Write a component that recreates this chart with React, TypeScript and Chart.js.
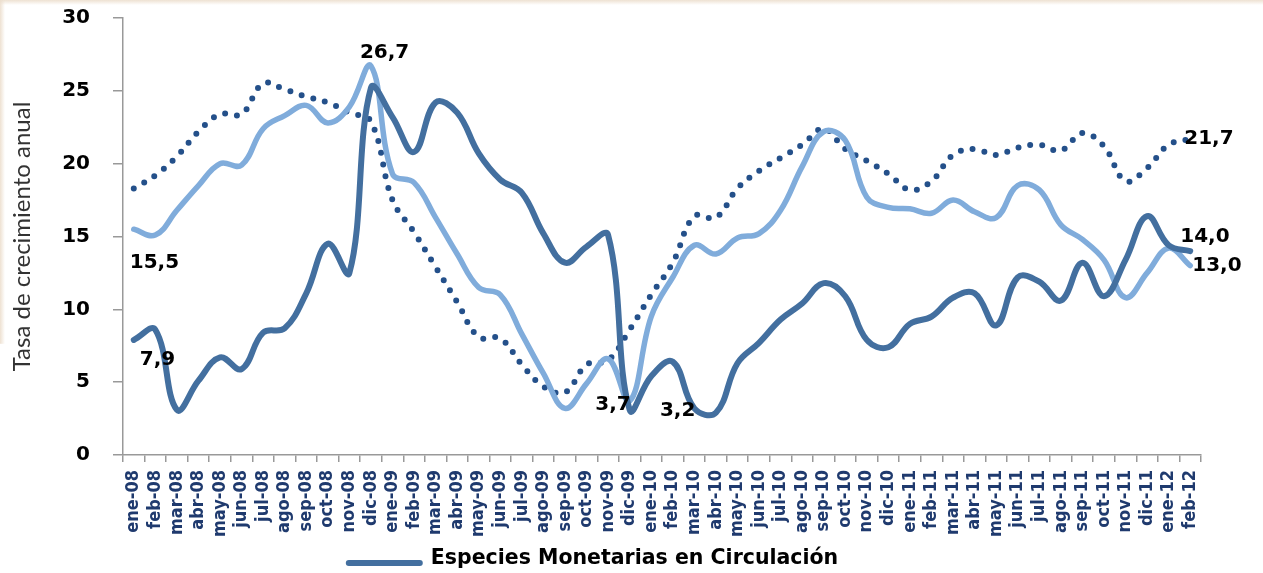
import React, { useEffect, useRef } from 'react';
import { Chart, registerables } from 'chart.js';
Chart.register(...registerables);

const categories = [
  'ene-08','feb-08','mar-08','abr-08','may-08','jun-08','jul-08','ago-08','sep-08','oct-08','nov-08','dic-08',
  'ene-09','feb-09','mar-09','abr-09','may-09','jun-09','jul-09','ago-09','sep-09','oct-09','nov-09','dic-09',
  'ene-10','feb-10','mar-10','abr-10','may-10','jun-10','jul-10','ago-10','sep-10','oct-10','nov-10','dic-10',
  'ene-11','feb-11','mar-11','abr-11','may-11','jun-11','jul-11','ago-11','sep-11','oct-11','nov-11','dic-11',
  'ene-12','feb-12'
];

const especiesMonetarias = [
  7.9, 8.6, 3.1, 5.1, 6.7, 5.9, 8.4, 8.7, 11.1, 14.5, 12.5, 25.2,
  23.2, 20.8, 24.2, 23.5, 20.7, 18.9, 18.0, 15.2, 13.2, 14.3, 15.1, 3.1,
  5.4, 6.4, 3.2, 2.9, 6.3, 7.7, 9.3, 10.4, 11.8, 10.9, 7.9, 7.4,
  9.0, 9.5, 10.8, 11.1, 8.9, 12.2, 11.9, 10.6, 13.2, 10.9, 13.4, 16.4,
  14.4, 14.0
];

const serieClara = [
  15.5, 15.1, 16.8, 18.5, 20.0, 19.9, 22.4, 23.3, 24.0, 22.8, 23.9, 26.7,
  19.3, 18.7, 16.3, 13.8, 11.5, 11.0, 8.3, 5.6, 3.2, 4.9, 6.6, 3.7,
  9.5, 12.2, 14.4, 13.8, 14.9, 15.2, 16.8, 19.8, 22.2, 21.6, 17.7, 17.0,
  16.9, 16.6, 17.5, 16.7, 16.3, 18.5, 18.2, 15.8, 14.8, 13.4, 10.8, 12.5,
  14.2, 13.0
];

const seriePunteada = [
  18.3, 19.2, 20.5, 22.2, 23.4, 23.4, 25.5, 25.1, 24.6, 24.2, 23.5, 22.9,
  17.5, 15.3, 12.9, 10.5, 8.1, 8.0, 6.2, 4.7, 4.3, 6.2, 6.5, 8.6,
  11.0, 13.2, 16.4, 16.3, 18.3, 19.5, 20.4, 21.3, 22.4, 21.0, 20.2, 19.3,
  18.2, 18.8, 20.6, 21.0, 20.6, 21.1, 21.3, 20.9, 22.1, 21.2, 18.8, 19.7,
  21.3, 21.7
];

const yTicks = [0, 5, 10, 15, 20, 25, 30];

const fmt = (v: number) => v.toFixed(1).replace('.', ',');

const backgroundPlugin = {
  id: 'bgEdges',
  beforeDraw(chart: any) {
    const ctx = chart.ctx;
    ctx.save();
    ctx.fillStyle = '#ffffff';
    ctx.fillRect(0, 0, chart.width, chart.height);
    const gTop = ctx.createLinearGradient(0, 0, 0, 5);
    gTop.addColorStop(0, 'rgba(236,222,205,0.9)');
    gTop.addColorStop(1, 'rgba(236,222,205,0)');
    ctx.fillStyle = gTop;
    ctx.fillRect(0, 0, chart.width, 5);
    const gLeft = ctx.createLinearGradient(0, 0, 5, 0);
    gLeft.addColorStop(0, 'rgba(236,222,205,0.9)');
    gLeft.addColorStop(1, 'rgba(236,222,205,0)');
    ctx.fillStyle = gLeft;
    ctx.fillRect(0, 0, 5, chart.height * 0.6);
    ctx.restore();
  }
};

const labelPlugin = {
  id: 'pointLabels',
  afterDatasetsDraw(chart: any, _args: any, opts: any) {
    const ctx = chart.ctx;
    ctx.save();
    ctx.font = 'bold 20px "DejaVu Sans"';
    ctx.fillStyle = '#000';
    ctx.textBaseline = 'middle';
    for (const l of opts.items || []) {
      const pt = chart.getDatasetMeta(l.ds).data[l.idx];
      const v = chart.data.datasets[l.ds].data[l.idx];
      ctx.textAlign = l.align;
      ctx.fillText(fmt(v), pt.x + l.dx, pt.y + l.dy);
    }
    ctx.restore();
  }
};

const legendPlugin = {
  id: 'customLegend',
  afterDraw(chart: any, _args: any, opts: any) {
    const ctx = chart.ctx;
    const ds = chart.data.datasets[0];
    ctx.save();
    ctx.font = opts.font;
    const textW = ctx.measureText(ds.label).width;
    const total = opts.lineWidth + opts.gap + textW;
    const x0 = opts.centerX - total / 2;
    const y = chart.height - opts.bottomOffset;
    ctx.strokeStyle = ds.borderColor;
    ctx.lineWidth = 6;
    ctx.lineCap = 'round';
    ctx.beginPath();
    ctx.moveTo(x0 + 3, y + 4);
    ctx.lineTo(x0 + opts.lineWidth - 3, y + 4);
    ctx.stroke();
    ctx.fillStyle = '#000';
    ctx.textBaseline = 'middle';
    ctx.textAlign = 'left';
    ctx.fillText(ds.label, x0 + opts.lineWidth + opts.gap, y);
    ctx.restore();
  }
};

export default function App() {
  const ref = useRef<HTMLCanvasElement>(null);
  useEffect(() => {
    const chart = new Chart(ref.current!, {
      type: 'line',
      data: {
        labels: categories,
        datasets: [
          {
            label: 'Especies Monetarias en Circulación',
            data: especiesMonetarias,
            borderColor: '#436f9f',
            backgroundColor: '#436f9f',
            borderWidth: 6,
            pointRadius: 0,
            tension: 0.4,
            borderCapStyle: 'round',
            borderJoinStyle: 'round',
          },
          {
            label: 'Serie 2',
            data: serieClara,
            borderColor: '#80acdb',
            backgroundColor: '#80acdb',
            borderWidth: 5.5,
            pointRadius: 0,
            tension: 0.4,
            borderCapStyle: 'round',
            borderJoinStyle: 'round',
          },
          {
            label: 'Serie 3',
            data: seriePunteada,
            borderColor: '#24508a',
            backgroundColor: '#24508a',
            borderWidth: 6,
            borderDash: [0, 12],
            borderCapStyle: 'round',
            pointRadius: 0,
            tension: 0.4,
          },
        ],
      },
      options: {
        animation: false,
        responsive: true,
        maintainAspectRatio: false,
        layout: { padding: { top: 18, right: 62, left: 0, bottom: 28 } },
        plugins: {
          tooltip: { enabled: false },
          legend: { display: false },
          customLegend: {
            font: 'bold 20.5px "DejaVu Sans"',
            lineWidth: 77,
            gap: 8,
            centerX: 592,
            bottomOffset: 14,
          },
          pointLabels: {
            items: [
              { ds: 1, idx: 0, dx: -4, dy: 34, align: 'left' },
              { ds: 0, idx: 0, dx: 6, dy: 20, align: 'left' },
              { ds: 1, idx: 11, dx: -11, dy: -13, align: 'left' },
              { ds: 1, idx: 23, dx: 1, dy: 4, align: 'right' },
              { ds: 0, idx: 26, dx: 1, dy: 2, align: 'right' },
              { ds: 0, idx: 49, dx: -10, dy: -14, align: 'left' },
              { ds: 1, idx: 49, dx: 2, dy: 0, align: 'left' },
              { ds: 2, idx: 49, dx: -6, dy: 0, align: 'left' },
            ],
          },
        } as any,
        scales: {
          x: {
            offset: true,
            grid: { drawOnChartArea: false, offset: true, tickLength: 7, color: '#999', lineWidth: 1.5 },
            border: { color: '#999', width: 1.5 },
            ticks: {
              autoSkip: false,
              maxRotation: 90,
              minRotation: 90,
              padding: 8,
              color: '#1f3a6e',
              font: { family: '"DejaVu Sans Condensed", "DejaVu Sans"', weight: 'bold', size: 18 },
            },
            afterFit: (s: any) => { s.height = 90; },
          },
          y: {
            min: 0,
            max: 30,
            afterBuildTicks: (s: any) => { s.ticks = yTicks.map((v) => ({ value: v })); },
            grid: { drawOnChartArea: false, tickLength: 10, color: '#999', lineWidth: 1.5 },
            border: { color: '#999', width: 1.5 },
            ticks: {
              padding: 23,
              color: '#000',
              font: { family: 'DejaVu Sans', weight: 'bold', size: 20 },
            },
            title: {
              display: true,
              text: 'Tasa de crecimiento anual',
              color: '#333',
              padding: { top: 8, bottom: 0 },
              font: { family: 'Lato', size: 24 },
            },
            afterFit: (s: any) => { s.width = 123; s.paddingTop = 0; s.paddingBottom = 0; },
          },
        },
      },
      plugins: [backgroundPlugin, labelPlugin, legendPlugin],
    } as any);
    return () => chart.destroy();
  }, []);
  return (
    <div style={{ position: 'fixed', left: 0, top: 0, width: 1263, height: 573, background: '#fff' }}>
      <canvas ref={ref} />
    </div>
  );
}
